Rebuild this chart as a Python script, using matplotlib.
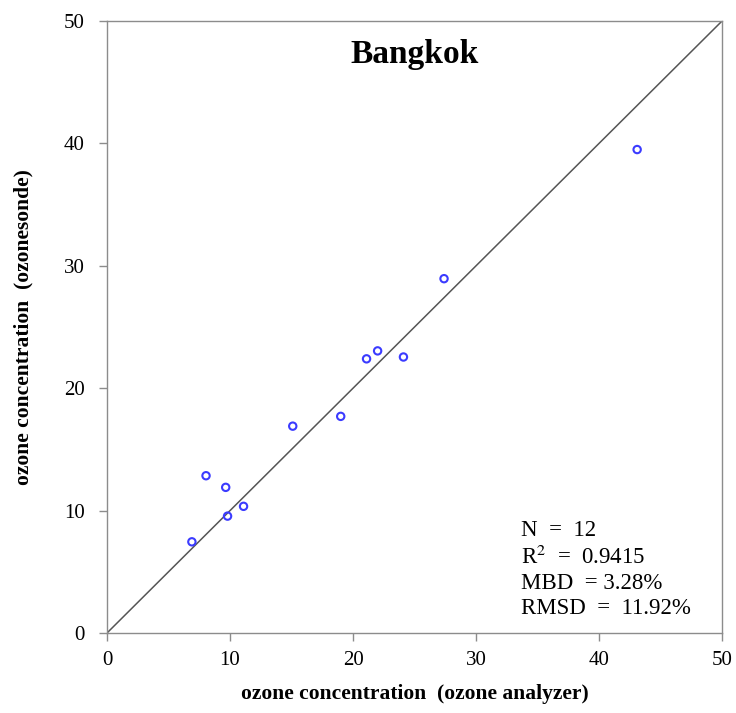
import numpy as np
import matplotlib.pyplot as plt

# ozone analyzer vs ozonesonde, Bangkok
analyzer = [6.9, 8.05, 9.65, 9.8, 11.1, 15.1, 19.0, 21.1, 22.0, 24.1, 27.4, 43.1]
sonde = [7.45, 12.85, 11.9, 9.55, 10.35, 16.9, 17.7, 22.4, 23.05, 22.55, 28.95, 39.5]
ticks = [0, 10, 20, 30, 40, 50]
stats_lines = ["N  =  12", "R$^2$  =  0.9415", "MBD  = 3.28%", "RMSD  =  11.92%"]

plt.rcParams['font.family'] = ['Liberation Serif', 'DejaVu Serif']
plt.rcParams['mathtext.fontset'] = 'stix'

fig = plt.figure(figsize=(7.36, 7.13), dpi=100)
ax = fig.add_axes([0.1454, 0.1122, 0.8356, 0.8583])

ax.plot([0, 50], [0, 50], color='#555555', linewidth=1.1, zorder=1)
ax.scatter(analyzer, sonde, s=28, facecolors='none', edgecolors='#3b3bff',
           linewidths=1.5, zorder=2)

ax.set_xlim(0, 50)
ax.set_ylim(0, 50)
ax.set_xticks(ticks)
ax.set_yticks(ticks)
for sp in ax.spines.values():
    sp.set_color('#8c8c8c')
    sp.set_linewidth(1.0)
ax.tick_params(direction='out', length=6, width=1.0, color='#8c8c8c',
               labelsize=15)
ax.tick_params(axis='y', pad=10)
ax.tick_params(axis='x', pad=7)

ax.set_xlabel("ozone concentration  (ozone analyzer)", fontsize=15.5,
              fontweight='bold', labelpad=10)
ax.set_ylabel("ozone concentration  (ozonesonde)", fontsize=15.5,
              fontweight='bold', labelpad=22)

ax.text(0.5, 0.945, "Bangkok", transform=ax.transAxes, ha='center', va='center',
        fontsize=24, fontweight='bold')

ax.text(0.673, 0.184, "\n".join(stats_lines), transform=ax.transAxes,
        ha='left', va='top', fontsize=16.5, linespacing=1.25)

fig.savefig("out.png", dpi=100)
